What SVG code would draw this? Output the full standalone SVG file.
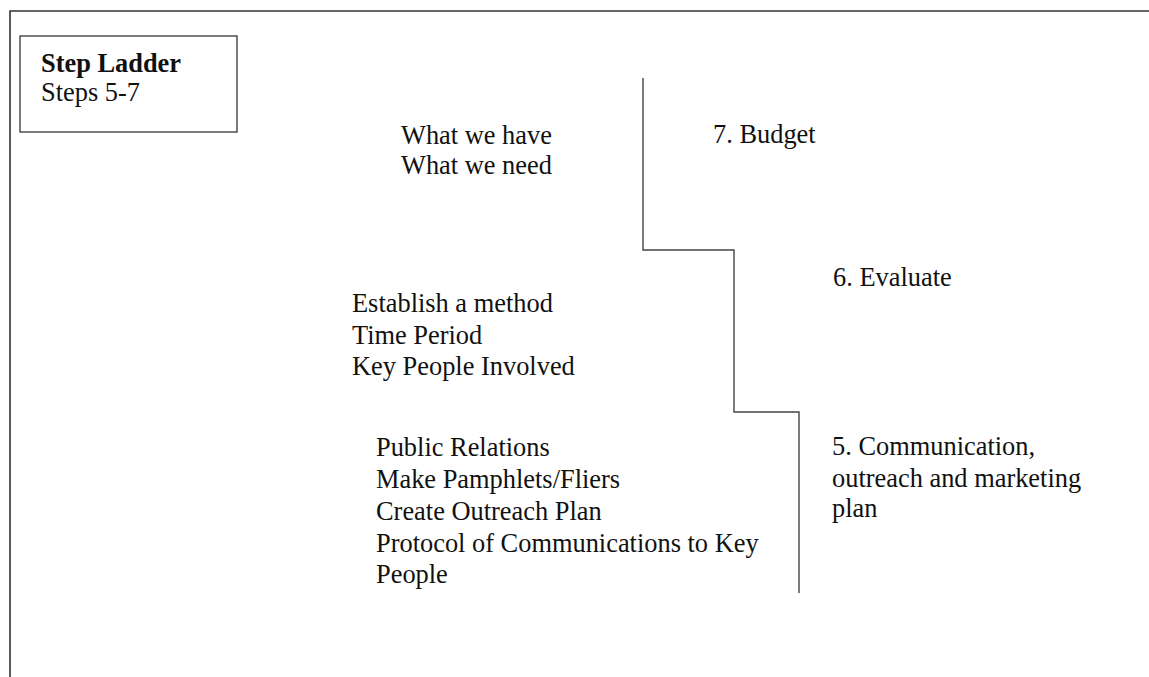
<svg xmlns="http://www.w3.org/2000/svg" width="1149" height="677" viewBox="0 0 1149 677">
  <style>
    .t { font-family: "Liberation Serif", "Times New Roman", serif; font-size: 26.4px; fill: #111; }
    .b { font-weight: bold; }
    .ln { fill: none; stroke: #444; stroke-width: 1.4; }
    .frame { fill: none; stroke: #333; stroke-width: 1.6; }
  </style>
  <rect width="1149" height="677" fill="#fff"/>
  <!-- page frame: top and left edges -->
  <path class="frame" d="M10 677 V11 H1149"/>

  <!-- title box -->
  <g id="title">
    <rect class="ln" x="20" y="36" width="217" height="96"/>
    <text class="t b" x="41" y="72">Step Ladder</text>
    <text class="t" x="41" y="101">Steps 5-7</text>
  </g>

  <!-- ladder staircase -->
  <g id="connectors">
    <path class="ln" d="M643 78 V250 H734 V412 H799 V593"/>
  </g>

  <g id="step7">
    <text class="t" x="713" y="143">7. Budget</text>
  </g>
  <g id="step7-notes">
    <text class="t" x="401" y="144">What we have</text>
    <text class="t" x="401" y="174">What we need</text>
  </g>

  <g id="step6">
    <text class="t" x="833" y="286">6. Evaluate</text>
  </g>
  <g id="step6-notes">
    <text class="t" x="352" y="312">Establish a method</text>
    <text class="t" x="352" y="343.5">Time Period</text>
    <text class="t" x="352" y="375">Key People Involved</text>
  </g>

  <g id="step5">
    <text class="t" x="832" y="455">5. Communication,</text>
    <text class="t" x="832" y="486.5">outreach and marketing</text>
    <text class="t" x="832" y="517">plan</text>
  </g>
  <g id="step5-notes">
    <text class="t" x="376" y="456">Public Relations</text>
    <text class="t" x="376" y="488">Make Pamphlets/Fliers</text>
    <text class="t" x="376" y="520">Create Outreach Plan</text>
    <text class="t" x="376" y="551.5">Protocol of Communications to Key</text>
    <text class="t" x="376" y="583">People</text>
  </g>
</svg>
